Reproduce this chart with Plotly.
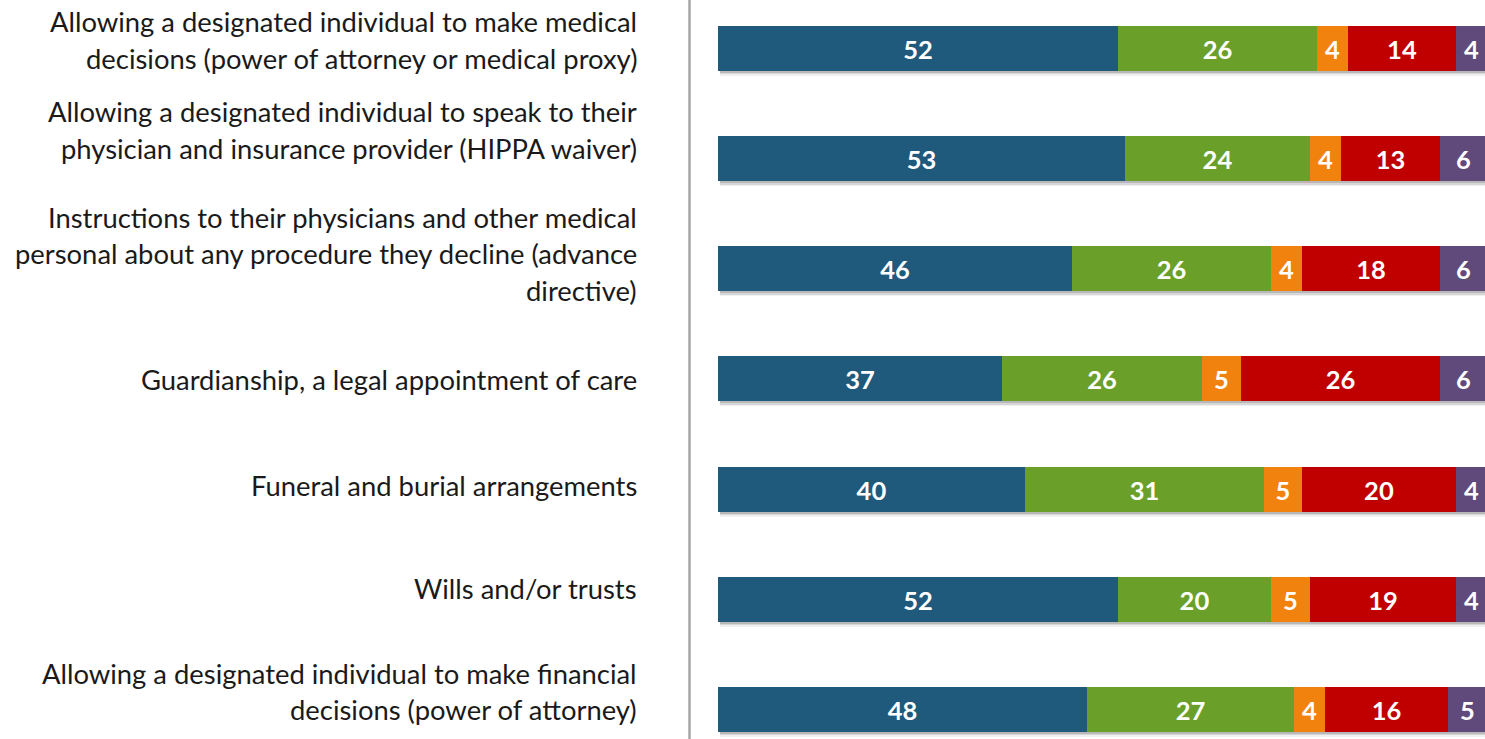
import plotly.graph_objects as go

# ---- data ----
categories = [
    "Allowing a designated individual to make medical<br>decisions (power of attorney or medical proxy)",
    "Allowing a designated individual to speak to their<br>physician and insurance provider (HIPPA waiver)",
    "Instructions to their physicians and other medical<br>personal about any procedure they decline (advance<br>directive)",
    "Guardianship, a legal appointment of care",
    "Funeral and burial arrangements",
    "Wills and/or trusts",
    "Allowing a designated individual to make financial<br>decisions (power of attorney)",
]
series_names = ["Segment 1", "Segment 2", "Segment 3", "Segment 4", "Segment 5"]
seg1 = [52, 53, 46, 37, 40, 52, 48]
seg2 = [26, 24, 26, 26, 31, 20, 27]
seg3 = [4, 4, 4, 5, 5, 5, 4]
seg4 = [14, 13, 18, 26, 20, 19, 16]
seg5 = [4, 6, 6, 6, 4, 4, 5]

# ---- styles / layout ----
colors = ["#1F5A7C", "#6AA029", "#F2820E", "#C00000", "#604A7B"]
W, H = 1485, 739
px_per_row = 110.17
y_top = -0.44
y_bottom = y_top + H / px_per_row
label_block_offset_px = [-8.5, -28.5, -15, 1, -4, -11, -18]
line_spacing_px = 36.5
label_font = dict(family="Lato", size=27.4, color="#1A1A1A")
bar_px = 45

fig = go.Figure()
ypos = list(range(len(categories)))
totals = [a + b + c + d + e for a, b, c, d, e in zip(seg1, seg2, seg3, seg4, seg5)]

# soft drop shadow under each bar
for shift_px, alpha in [(5, 0.06), (3.5, 0.10), (2, 0.14)]:
    fig.add_trace(go.Bar(
        y=[p + shift_px / px_per_row for p in ypos], x=totals, base=0.3,
        orientation="h", width=bar_px / px_per_row,
        marker=dict(color=f"rgba(0,0,0,{alpha})", line=dict(width=0)),
        hoverinfo="skip", showlegend=False,
    ))

for name, vals, col in zip(series_names, [seg1, seg2, seg3, seg4, seg5], colors):
    fig.add_trace(go.Bar(
        y=ypos, x=vals, orientation="h", name=name,
        marker=dict(color=col, line=dict(width=0)),
        width=bar_px / px_per_row,
        text=[str(v) for v in vals], textposition="inside",
        insidetextanchor="middle", constraintext="none",
        textfont=dict(family="Lato", size=25.5, color="white", weight="bold"),
        textangle=0,
        hoverinfo="skip",
    ))

annotations = []
label_x = (639 - 718) / (W - 718)
for i, (cat, off) in enumerate(zip(categories, label_block_offset_px)):
    lines = cat.split("<br>")
    n = len(lines)
    for k, ln in enumerate(lines):
        dy_px = off + (k - (n - 1) / 2) * line_spacing_px
        annotations.append(dict(
            x=label_x, xref="paper", y=i + dy_px / px_per_row, yref="y",
            text=ln, showarrow=False, xanchor="right", yanchor="middle",
            font=label_font,
        ))

line_x = (689.5 - 718) / (W - 718)
fig.update_layout(
    width=W, height=H,
    barmode="stack",
    showlegend=False,
    plot_bgcolor="white", paper_bgcolor="white",
    margin=dict(l=718, r=0, t=0, b=0),
    xaxis=dict(range=[0, 99.8], visible=False, fixedrange=True),
    yaxis=dict(range=[y_bottom, y_top], visible=False, fixedrange=True),
    annotations=annotations,
    bargap=0,
    shapes=[dict(type="line", xref="paper", yref="paper",
                 x0=line_x, x1=line_x, y0=0, y1=1,
                 line=dict(color="#A6A6A6", width=2.5))],
)

fig.write_html("out.html", config={"displayModeBar": False},
               post_script="document.body.style.margin='0';document.body.style.overflow='hidden';")
